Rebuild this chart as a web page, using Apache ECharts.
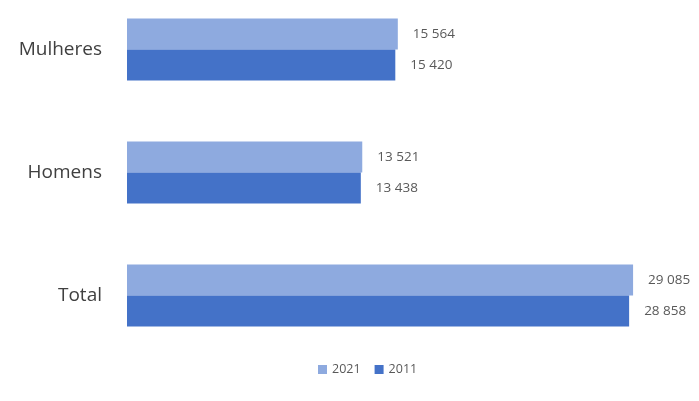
<!DOCTYPE html>
<html><head><meta charset="utf-8">
<script src="https://cdn.jsdelivr.net/npm/echarts@6/dist/echarts.min.js"></script>
<style>html,body{margin:0;padding:0;background:#fff;overflow:hidden}#c{width:699px;height:413px;margin-top:-12px}</style>
</head><body><div id="c"></div>
<script>
const categories = ['Mulheres', 'Homens', 'Total'];
const values2021 = [15564, 13521, 29085];
const values2011 = [15420, 13438, 28858];
const seriesNames = ['2021', '2011'];

function fmt(v){ return String(v).replace(/\B(?=(\d{3})+(?!\d))/g, ' '); }

const chart = echarts.init(document.getElementById('c'));
const lbl = {show:true, position:'right', distance:15, color:'#595959', fontSize:13.5,
  fontFamily:'Open Sans', formatter:p=>fmt(p.value)};
chart.setOption({
  animation:false,
  grid:{left:127, right:50, top:0, height:369, containLabel:false},
  xAxis:{type:'value', min:0, max:30000, show:false},
  yAxis:{type:'category', data:categories, inverse:true,
    axisLine:{show:false}, axisTick:{show:false},
    axisLabel:{color:'#404040', fontSize:19, fontFamily:'Open Sans', margin:25}},
  legend:{bottom:20, left:313, itemWidth:9, itemHeight:9, itemGap:14,
    textStyle:{color:'#595959', fontSize:12.5, fontFamily:'Open Sans'},
    data:seriesNames, icon:'rect'},
  series:[
    {name:seriesNames[0], type:'bar', data:values2021, barWidth:31, barGap:'0%',
     itemStyle:{color:'#8eaadf'}, label:lbl},
    {name:seriesNames[1], type:'bar', data:values2011, barWidth:31, barGap:'0%',
     itemStyle:{color:'#4472c8'}, label:lbl}
  ]
});
</script></body></html>
